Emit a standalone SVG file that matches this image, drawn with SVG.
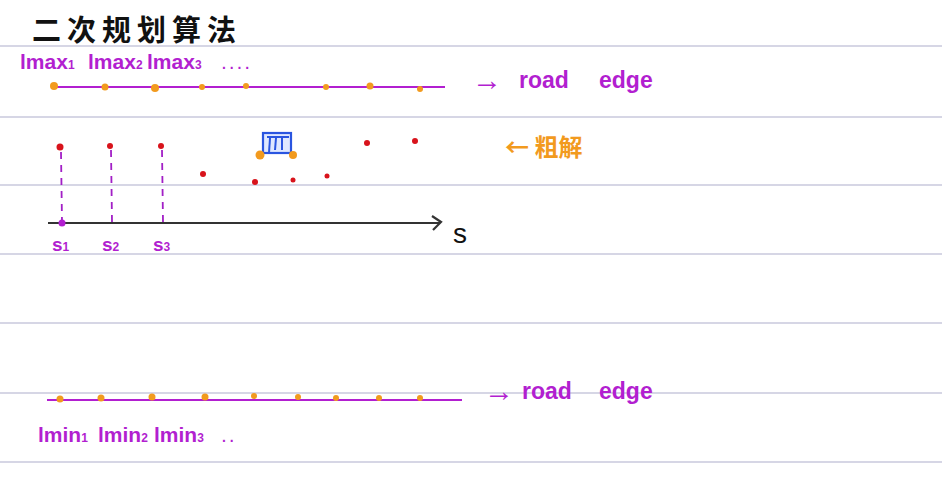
<svg xmlns="http://www.w3.org/2000/svg" width="942" height="497" viewBox="0 0 942 497">
<defs>
<style>
.rule{stroke:#c9c9dc;stroke-width:1.5}
.edge{stroke:#b21fd0;stroke-width:2.2;fill:none}
.od{fill:#f29a1e}
.rd{fill:#d8131b}
.lbl{font-family:"Liberation Sans","Noto Sans",sans-serif;fill:#b21fd0;font-weight:bold}
.ax{stroke:#333;stroke-width:2.2;fill:none}
.dash{stroke:#a21fc6;stroke-width:1.8;stroke-dasharray:7 6;fill:none}
</style>
</defs>
<rect width="942" height="497" fill="#ffffff"/>
<g id="rules">
<line class="rule" x1="0" y1="46" x2="942" y2="46"/>
<line class="rule" x1="0" y1="117" x2="942" y2="117"/>
<line class="rule" x1="0" y1="185" x2="942" y2="185"/>
<line class="rule" x1="0" y1="254" x2="942" y2="254"/>
<line class="rule" x1="0" y1="323" x2="942" y2="323"/>
<line class="rule" x1="0" y1="393" x2="942" y2="393"/>
<line class="rule" x1="0" y1="462" x2="942" y2="462"/>
</g>
<g id="title">
<text x="32" y="41" font-family="'Noto Sans CJK SC',sans-serif" font-size="29" font-weight="bold" fill="#111" letter-spacing="6">二次规划算法</text>
</g>
<g id="upper-edge">
<line class="edge" x1="52" y1="87" x2="445" y2="87"/>
<circle class="od" cx="54" cy="86" r="4"/>
<circle class="od" cx="105" cy="87" r="3.5"/>
<circle class="od" cx="155" cy="88" r="4"/>
<circle class="od" cx="202" cy="87" r="3"/>
<circle class="od" cx="246" cy="86" r="3"/>
<circle class="od" cx="326" cy="87" r="3"/>
<circle class="od" cx="370" cy="86" r="3.5"/>
<circle class="od" cx="420" cy="89" r="3"/>
<text class="lbl" x="20" y="69" font-size="21">lmax<tspan font-size="12">1</tspan> <tspan x="88">lmax</tspan><tspan font-size="12">2</tspan> <tspan x="147">lmax</tspan><tspan font-size="12">3</tspan> <tspan x="222" font-size="14">. . . .</tspan></text>
<text class="lbl" x="472" y="90" font-size="30">→</text>
<text class="lbl" x="519" y="88" font-size="23">road</text>
<text class="lbl" x="599" y="88" font-size="23">edge</text>
</g>
<g id="rough-solution">
<circle class="rd" cx="60" cy="147" r="3.5"/>
<circle class="rd" cx="110" cy="146" r="3"/>
<circle class="rd" cx="161" cy="146" r="3"/>
<circle class="rd" cx="203" cy="174" r="3"/>
<circle class="rd" cx="255" cy="182" r="3"/>
<circle class="rd" cx="293" cy="180" r="2.5"/>
<circle class="rd" cx="327" cy="176" r="2.5"/>
<circle class="rd" cx="367" cy="143" r="3"/>
<circle class="rd" cx="415" cy="141" r="3"/>
<text x="505" y="156" font-family="'Noto Sans CJK SC',sans-serif" font-size="24" font-weight="bold" fill="#f29a1e">← 粗解</text>
</g>
<g id="vehicle">
<rect x="263" y="133" width="28" height="20" fill="#dfe8ff" stroke="#2a55e0" stroke-width="2.2"/>
<line x1="270" y1="138" x2="269" y2="153" stroke="#2a55e0" stroke-width="2"/>
<line x1="276" y1="138" x2="275" y2="150" stroke="#2a55e0" stroke-width="2"/>
<line x1="282" y1="138" x2="282" y2="150" stroke="#2a55e0" stroke-width="2"/>
<line x1="267" y1="137" x2="289" y2="137" stroke="#2a55e0" stroke-width="2"/>
<circle class="od" cx="260" cy="155" r="4.5"/>
<circle class="od" cx="293" cy="155" r="4"/>
</g>
<g id="connectors">
<line class="dash" x1="61" y1="152" x2="62" y2="222"/>
<line class="dash" x1="111" y1="150" x2="112" y2="222"/>
<line class="dash" x1="162" y1="150" x2="163" y2="222"/>
</g>
<g id="s-axis">
<line class="ax" x1="48" y1="223" x2="440" y2="223"/>
<path class="ax" d="M432 216 L441 222 L433 230"/>
<circle cx="62" cy="223" r="3.5" fill="#b21fd0"/>
<text x="453" y="243" font-family="'Liberation Sans',sans-serif" font-size="28" fill="#111">s</text>
<text class="lbl" x="52" y="251" font-size="19">s<tspan font-size="12">1</tspan></text>
<text class="lbl" x="102" y="251" font-size="19">s<tspan font-size="12">2</tspan></text>
<text class="lbl" x="153" y="251" font-size="19">s<tspan font-size="12">3</tspan></text>
</g>
<g id="lower-edge">
<line class="edge" x1="47" y1="400" x2="462" y2="400"/>
<circle class="od" cx="60" cy="399" r="3.5"/>
<circle class="od" cx="101" cy="398" r="3.5"/>
<circle class="od" cx="152" cy="397" r="3.5"/>
<circle class="od" cx="205" cy="397" r="3.5"/>
<circle class="od" cx="254" cy="396" r="3"/>
<circle class="od" cx="298" cy="397" r="3"/>
<circle class="od" cx="336" cy="398" r="3"/>
<circle class="od" cx="379" cy="398" r="3"/>
<circle class="od" cx="420" cy="398" r="3"/>
<text class="lbl" x="38" y="442" font-size="21">lmin<tspan font-size="12">1</tspan> <tspan x="98">lmin</tspan><tspan font-size="12">2</tspan> <tspan x="154">lmin</tspan><tspan font-size="12">3</tspan> <tspan x="222" font-size="14">. .</tspan></text>
<text class="lbl" x="484" y="401" font-size="30">→</text>
<text class="lbl" x="522" y="399" font-size="23">road</text>
<text class="lbl" x="599" y="399" font-size="23">edge</text>
</g>
</svg>
